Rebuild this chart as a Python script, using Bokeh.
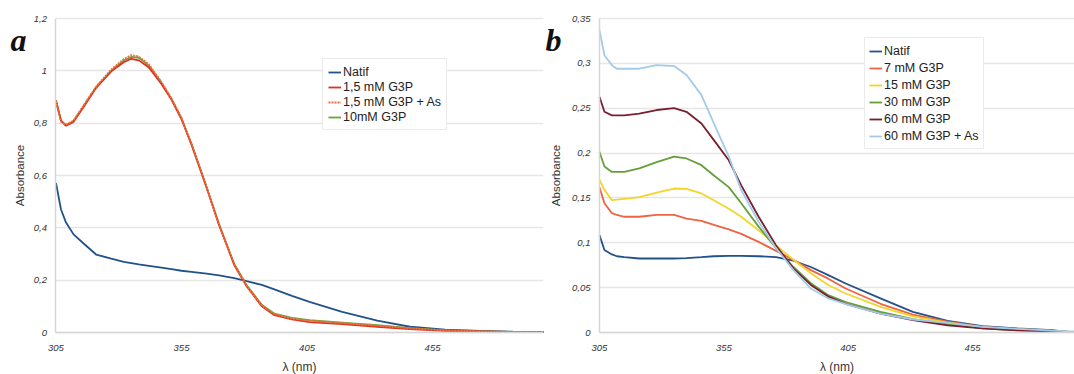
from bokeh.plotting import figure
from bokeh.layouts import row
from bokeh.models import FixedTicker, Label, Legend, LegendItem, Range1d, BoxAnnotation
from bokeh.embed import file_html
from bokeh.resources import INLINE

# ---------------- data: panel a ----------------
wl_a = [305, 307, 309, 312, 316, 321, 327, 332, 335, 338, 342, 347, 351, 355, 359,
        365, 370, 376, 381, 387, 392, 399, 406, 419, 433, 446, 460, 474, 487, 506]
natif_a = [0.572, 0.47, 0.42, 0.375, 0.34, 0.298, 0.282, 0.27, 0.265, 0.26, 0.255, 0.248,
           0.242, 0.236, 0.232, 0.225, 0.218, 0.208, 0.196, 0.182, 0.165, 0.14, 0.117,
           0.079, 0.045, 0.022, 0.011, 0.006, 0.003, 0.001]
g3p_15 = [0.888, 0.81, 0.79, 0.805, 0.862, 0.935, 0.998, 1.033, 1.046, 1.04, 1.013, 0.95,
          0.89, 0.815, 0.718, 0.553, 0.41, 0.258, 0.176, 0.1, 0.066, 0.05, 0.04, 0.032,
          0.022, 0.013, 0.006, 0.004, 0.002, 0.001]
g3p_15_as = [0.885, 0.805, 0.795, 0.81, 0.868, 0.94, 1.005, 1.045, 1.06, 1.055, 1.025, 0.958,
             0.895, 0.82, 0.72, 0.555, 0.41, 0.26, 0.178, 0.103, 0.07, 0.053, 0.045, 0.036,
             0.026, 0.016, 0.008, 0.004, 0.002, 0.001]
g3p_10 = [0.882, 0.81, 0.792, 0.808, 0.865, 0.938, 1.0, 1.04, 1.053, 1.05, 1.02, 0.955,
          0.893, 0.818, 0.72, 0.556, 0.412, 0.262, 0.18, 0.106, 0.072, 0.056, 0.047, 0.038,
          0.028, 0.017, 0.008, 0.004, 0.002, 0.001]
yticks_a = [0, 0.2, 0.4, 0.6, 0.8, 1.0, 1.2]
ylabels_a = ["0", "0,2", "0,4", "0,6", "0,8", "1", "1,2"]

# ---------------- data: panel b ----------------
wl_b = [305, 307, 310, 312, 315, 321, 328, 335, 340, 346, 351, 357, 362, 369, 376, 383,
        390, 397, 404, 418, 431, 445, 459, 473, 487, 492, 499]
natif_b = [0.1085, 0.092, 0.087, 0.085, 0.084, 0.0825, 0.0825, 0.0825, 0.083, 0.084, 0.085,
           0.0855, 0.0855, 0.085, 0.084, 0.08, 0.073, 0.064, 0.0546, 0.038, 0.023, 0.013,
           0.007, 0.0045, 0.0026, 0.001, 0.0]
mm7 = [0.162, 0.144, 0.133, 0.131, 0.129, 0.129, 0.131, 0.131, 0.127, 0.1245, 0.12, 0.115,
       0.11, 0.101, 0.091, 0.081, 0.0695, 0.06, 0.049, 0.032, 0.02, 0.012, 0.0063, 0.004,
       0.002, 0.001, 0.0]
mm15 = [0.17, 0.159, 0.1475, 0.148, 0.149, 0.151, 0.156, 0.1605, 0.16, 0.155, 0.1475,
        0.138, 0.129, 0.114, 0.097, 0.081, 0.066, 0.053, 0.0435, 0.0286, 0.018, 0.011,
        0.0056, 0.003, 0.0015, 0.001, 0.0]
mm30 = [0.2014, 0.185, 0.179, 0.179, 0.179, 0.183, 0.19, 0.196, 0.194, 0.1865, 0.175,
        0.162, 0.144, 0.118, 0.094, 0.073, 0.055, 0.0416, 0.034, 0.023, 0.015, 0.0093,
        0.0045, 0.0025, 0.0012, 0.001, 0.0]
mm60 = [0.2627, 0.246, 0.242, 0.242, 0.242, 0.244, 0.248, 0.25, 0.246, 0.233, 0.2144,
        0.192, 0.164, 0.129, 0.097, 0.0713, 0.053, 0.04, 0.032, 0.021, 0.0137, 0.008,
        0.0045, 0.0025, 0.0012, 0.001, 0.0]
mm60_as = [0.337, 0.309, 0.298, 0.294, 0.294, 0.294, 0.298, 0.297, 0.287, 0.2646, 0.233,
           0.196, 0.1587, 0.1234, 0.094, 0.0695, 0.049, 0.038, 0.0316, 0.021, 0.0145,
           0.0108, 0.0063, 0.004, 0.002, 0.0015, 0.001]
yticks_b = [0, 0.05, 0.1, 0.15, 0.2, 0.25, 0.3, 0.35]
ylabels_b = ["0", "0,05", "0,1", "0,15", "0,2", "0,25", "0,3", "0,35"]

xticks = [305, 355, 405, 455]
X0 = 305

FONT = "Liberation Sans"
H = 374
# plot area: 18 px above the top tick, 42 px below zero (room for the axis texts)
TOP_PX, BOT_PX, AREA_PX = 18, 42, 314


def y_limits(ymax):
    per_px = ymax / AREA_PX
    return Range1d(-BOT_PX * per_px, ymax + TOP_PX * per_px)


def style(p, yticks, ylabels, x_end, y_end, ylab_standoff):
    p.xaxis.ticker = FixedTicker(ticks=xticks)
    p.yaxis.ticker = FixedTicker(ticks=yticks)
    p.yaxis.major_label_overrides = {t: l for t, l in zip(yticks, ylabels)}
    p.yaxis.fixed_location = X0
    p.xaxis.fixed_location = 0
    p.xaxis.bounds = (X0, x_end)
    p.yaxis.bounds = (0, y_end)
    for ax in (p.xaxis[0], p.yaxis[0]):
        ax.axis_line_color = "#d6d6d6"
        ax.axis_line_width = 1.5
        ax.major_tick_line_color = None
        ax.minor_tick_line_color = None
        ax.major_label_text_font = FONT
        ax.major_label_text_font_style = "italic"
        ax.major_label_text_font_size = "9.5px"
        ax.major_label_text_color = "#333333"
        ax.axis_label_text_font = FONT
        ax.axis_label_text_font_style = "normal"
        ax.axis_label_text_color = "#333333"
    p.xaxis.axis_label = "λ (nm)"
    p.xaxis.axis_label_text_font_size = "12px"
    p.xaxis.major_label_standoff = 6
    p.xaxis.axis_label_standoff = 6
    p.yaxis.axis_label = "Absorbance"
    p.yaxis.axis_label_text_font_size = "11.5px"
    p.yaxis.major_label_standoff = 3
    p.yaxis.axis_label_standoff = ylab_standoff
    p.xgrid.grid_line_color = None
    p.ygrid.grid_line_color = "#e6e6e6"
    p.ygrid.grid_line_width = 1.6
    p.outline_line_color = None
    # keep the area left of the y axis free of grid lines
    p.add_layout(BoxAnnotation(right=X0, fill_color="white", fill_alpha=1.0,
                               line_color=None, level="underlay"))


def make_legend(items, x, y, spacing, pad):
    lg = Legend(items=items, location=(x, y))
    lg.label_text_font = FONT
    lg.label_text_font_size = "12.5px"
    lg.label_text_color = "#222222"
    lg.glyph_width = 13
    lg.glyph_height = 10
    lg.label_standoff = 2
    lg.label_height = spacing
    lg.spacing = 0
    lg.padding = pad
    lg.margin = 0
    lg.border_line_color = "#d8d8d8"
    lg.background_fill_alpha = 1
    return lg


def panel_letter(p, letter, x):
    p.add_layout(Label(x=x, y=H - 48 + 9, x_units="screen", y_units="screen", text=letter,
                       text_font="Liberation Serif", text_font_style="bold italic",
                       text_baseline="alphabetic",
                       text_font_size="32px", text_color="#111111"))


# ---------------- panel a ----------------
pa = figure(width=544, height=H, output_backend="svg", toolbar_location=None,
            x_range=Range1d(282.9, 499.2), y_range=y_limits(1.2),
            min_border_left=0, min_border_right=1, min_border_top=0, min_border_bottom=0)
style(pa, yticks_a, ylabels_a, 499.2, 1.2, 4)
r_nat = pa.line(wl_a, natif_a, line_color="#22528a", line_width=1.8)
r_10 = pa.line(wl_a, g3p_10, line_color="#6aa33a", line_width=1.8)
r_15 = pa.line(wl_a, g3p_15, line_color="#e0301e", line_width=1.8)
r_15as = pa.line(wl_a, g3p_15_as, line_color="#f07040", line_width=1.8, line_dash="2 1")
lga = make_legend([LegendItem(label="Natif", renderers=[r_nat]),
                   LegendItem(label="1,5 mM G3P", renderers=[r_15]),
                   LegendItem(label="1,5 mM G3P + As", renderers=[r_15as]),
                   LegendItem(label="10mM G3P", renderers=[r_10])],
                  322, H - 59 - 71, 15, 5)
pa.add_layout(lga)
panel_letter(pa, "a", 10)

# ---------------- panel b ----------------
pb = figure(width=530, height=H, output_backend="svg", toolbar_location=None,
            x_range=Range1d(282.9, 496.0), y_range=y_limits(0.35),
            min_border_left=0, min_border_right=0, min_border_top=0, min_border_bottom=0)
style(pb, yticks_b, ylabels_b, 496.0, 0.35, 7)
b_nat = pb.line(wl_b, natif_b, line_color="#22528a", line_width=1.8)
b_7 = pb.line(wl_b, mm7, line_color="#ee6440", line_width=1.8)
b_15 = pb.line(wl_b, mm15, line_color="#f3d52a", line_width=1.8)
b_30 = pb.line(wl_b, mm30, line_color="#64a03a", line_width=1.8)
b_60 = pb.line(wl_b, mm60, line_color="#7a1e2e", line_width=1.8)
b_60as = pb.line(wl_b, mm60_as, line_color="#a3cbe8", line_width=1.8)
lgb = make_legend([LegendItem(label="Natif", renderers=[b_nat]),
                   LegendItem(label="7 mM G3P", renderers=[b_7]),
                   LegendItem(label="15 mM G3P", renderers=[b_15]),
                   LegendItem(label="30 mM G3P", renderers=[b_30]),
                   LegendItem(label="60 mM G3P", renderers=[b_60]),
                   LegendItem(label="60 mM G3P + As", renderers=[b_60as])],
                  320, H - 39 - 110, 17, 4)
pb.add_layout(lgb)
panel_letter(pb, "b", 1)

layout = row(pa, pb)
open("out.html", "w").write(file_html(layout, INLINE))
